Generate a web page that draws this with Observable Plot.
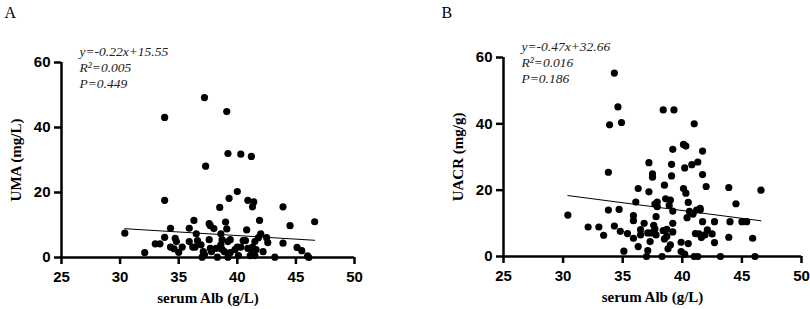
<!DOCTYPE html>
<html>
<head>
<meta charset="utf-8">
<script src="https://cdn.jsdelivr.net/npm/d3@7"></script>
<script src="https://cdn.jsdelivr.net/npm/@observablehq/plot@0.6"></script>
<style>
  html, body { margin: 0; padding: 0; background: #fff; }
  #wrap { display: flex; width: 810px; height: 309px; }
  #wrap svg { overflow: visible; }
</style>
</head>
<body>
<div id="wrap"></div>
<script>
// ---- Data ----
const panelLetters = ["A", "B"];
const yLabels = ["UMA (mg/L)", "UACR (mg/g)"];
const xLabel = "serum Alb (g/L)";
const xTicks = [25, 30, 35, 40, 45, 50];
const yTicks = [0, 20, 40, 60];
const annotA = ["y=-0.22x+15.55", "R²=0.005", "P=0.449"];
const annotB = ["y=-0.47x+32.66", "R²=0.016", "P=0.186"];
const fitA = [-0.22, 15.55];
const fitB = [-0.47, 32.66];
const fitRange = [30.4, 46.6];

const albA = [30.4,32.1,33.0,33.4,33.8,33.8,33.8,34.3,34.3,34.6,34.7,34.8,35.0,35.3,35.9,35.9,36.2,36.3,36.4,36.5,36.6,36.9,37.0,37.1,37.2,37.2,37.3,37.6,37.6,37.7,37.7,37.8,38.0,38.2,38.3,38.5,38.6,38.6,38.7,38.7,38.9,39.0,39.1,39.1,39.2,39.2,39.2,39.3,39.4,39.4,39.8,40.0,40.0,40.1,40.3,40.3,40.5,40.7,40.8,40.9,40.9,41.1,41.2,41.2,41.3,41.3,41.4,41.5,41.5,41.6,41.8,41.9,42.0,42.2,42.5,42.6,43.2,43.9,43.9,44.5,45.1,45.5,46.0,46.1,46.6];
const umaA = [7.5,1.5,4.2,4.2,6.2,17.6,43.1,9.0,3.2,2.7,5.9,4.9,1.6,3.2,9.0,4.9,3.2,11.4,3.2,7.3,5.2,3.9,0.1,1.8,0.9,49.2,28.1,10.4,5.5,9.8,2.8,1.8,8.9,2.8,0.1,15.4,7.3,3.9,5.5,2.5,1.8,10.9,8.8,44.9,32.0,4.9,0.1,18.2,5.5,1.5,2.4,3.2,20.3,0.6,31.8,3.2,5.2,5.2,8.5,17.6,2.8,0.6,2.4,31.1,3.2,15.6,17.1,4.9,0.6,2.4,6.1,11.4,7.3,1.8,6.1,4.6,0.1,15.6,4.4,9.8,3.1,2.1,0.5,0.0,11.0];

const albB = [30.4,32.1,33.0,33.4,33.8,33.8,33.9,34.3,34.3,34.6,34.7,34.8,34.9,35.1,35.4,35.9,35.9,35.9,36.1,36.3,36.3,36.5,36.5,36.8,37.0,37.1,37.1,37.2,37.2,37.3,37.4,37.5,37.5,37.6,37.7,37.7,37.8,37.8,37.9,37.9,38.3,38.4,38.4,38.5,38.5,38.6,38.7,38.7,38.8,38.9,39.0,39.0,39.1,39.1,39.2,39.2,39.2,39.2,39.3,39.9,39.9,40.1,40.1,40.2,40.2,40.3,40.3,40.4,40.5,40.5,40.6,40.8,40.9,41.0,41.0,41.1,41.2,41.3,41.3,41.4,41.5,41.5,41.6,41.7,41.7,41.7,41.9,42.0,42.1,42.5,42.7,42.7,43.2,43.9,43.9,44.0,44.5,45.0,45.4,45.9,46.1,46.6];
const uacrB = [12.5,8.9,8.9,6.4,25.4,14.0,39.7,55.3,9.2,45.1,14.2,7.6,40.4,1.6,6.9,5.5,10.8,12.3,16.4,20.5,3.0,8.1,6.5,10.0,0.0,7.1,1.8,19.5,28.3,4.5,7.1,23.9,24.9,9.4,15.8,8.3,6.5,12.0,15.0,16.4,0.0,7.8,44.2,21.5,5.3,17.4,6.1,8.2,2.3,15.4,17.0,3.5,27.8,24.3,32.3,13.7,10.0,7.4,44.2,1.5,4.3,20.5,33.8,26.7,0.7,33.3,19.1,11.7,3.9,16.3,13.6,27.7,12.8,0.0,40.0,6.9,14.0,28.5,0.0,6.8,14.0,14.5,5.7,10.5,24.7,31.8,6.5,21.1,8.0,6.8,10.5,4.2,0.0,20.8,5.8,10.5,15.9,10.5,10.5,5.5,0.0,20.0];

const serif = "Liberation Serif";
const sans = "Liberation Sans";

function panel({letter, xs, ys, yLabel, annot, fit, ml, mr, mt, mb, letterDx, letterDy}) {
  const pts = xs.map((x, i) => ({x, y: ys[i]}));
  const line = fitRange.map(x => ({x, y: fit[0] * x + fit[1]}));
  return Plot.plot({
    width: 405,
    height: 309,
    marginLeft: ml, marginRight: mr, marginTop: mt, marginBottom: mb,
    x: {domain: [25, 50]},
    y: {domain: [0, 60]},
    marks: [
      Plot.axisX({ticks: xTicks, tickSize: 7, tickFormat: () => "", strokeWidth: 2.5, stroke: "black", label: null}),
      Plot.axisY({ticks: yTicks, tickSize: 7, tickFormat: () => "", strokeWidth: 2.5, stroke: "black", label: null}),
      Plot.text(xTicks, {x: d => d, frameAnchor: "bottom", dy: 20, text: d => String(d),
                 fontFamily: sans, fontWeight: "bold", fontSize: 15, fill: "black", lineAnchor: "middle"}),
      Plot.text(yTicks, {y: d => d, frameAnchor: "left", dx: -11, text: d => String(d),
                 fontFamily: sans, fontWeight: "bold", fontSize: 15, fill: "black", textAnchor: "end", lineAnchor: "middle"}),
      Plot.ruleY([0], {x1: 25, x2: 50, stroke: "black", strokeWidth: 2.5}),
      Plot.ruleX([25], {y1: 0, y2: 60, stroke: "black", strokeWidth: 2.5}),
      Plot.line(line, {x: "x", y: "y", stroke: "black", strokeWidth: 1}),
      Plot.dot(pts, {x: "x", y: "y", r: 3.6, fill: "black", stroke: null}),
      Plot.text([xLabel], {frameAnchor: "bottom", dy: 41, text: d => d,
                 fontFamily: serif, fontWeight: "bold", fontSize: 15, fill: "black", lineAnchor: "middle"}),
      Plot.text([yLabel], {frameAnchor: "left", dx: -45, rotate: -90, text: d => d,
                 fontFamily: serif, fontWeight: "bold", fontSize: 15, fill: "black", lineAnchor: "middle", textAnchor: "middle"}),
      Plot.text([letter], {frameAnchor: "top-left", dx: letterDx, dy: letterDy, text: d => d,
                 fontFamily: serif, fontSize: 16, fill: "black", textAnchor: "start", lineAnchor: "middle"}),
      ...annot.map((t, i) => Plot.text([t], {frameAnchor: "top-left", dx: 18, dy: -11 + i * 16, text: d => d,
                 fontFamily: serif, fontStyle: "italic", fontSize: 13.5, fill: "#222", textAnchor: "start", lineAnchor: "middle"}))
    ]
  });
}

const wrap = document.getElementById("wrap");
wrap.append(panel({letter: panelLetters[0], xs: albA, ys: umaA, yLabel: yLabels[0], annot: annotA, fit: fitA,
                   ml: 61, mr: 51, mt: 62, mb: 52, letterDx: -57, letterDy: -50}));
wrap.append(panel({letter: panelLetters[1], xs: albB, ys: uacrB, yLabel: yLabels[1], annot: annotB, fit: fitB,
                   ml: 98, mr: 9, mt: 57, mb: 53, letterDx: -62, letterDy: -45}));
</script>
</body>
</html>
